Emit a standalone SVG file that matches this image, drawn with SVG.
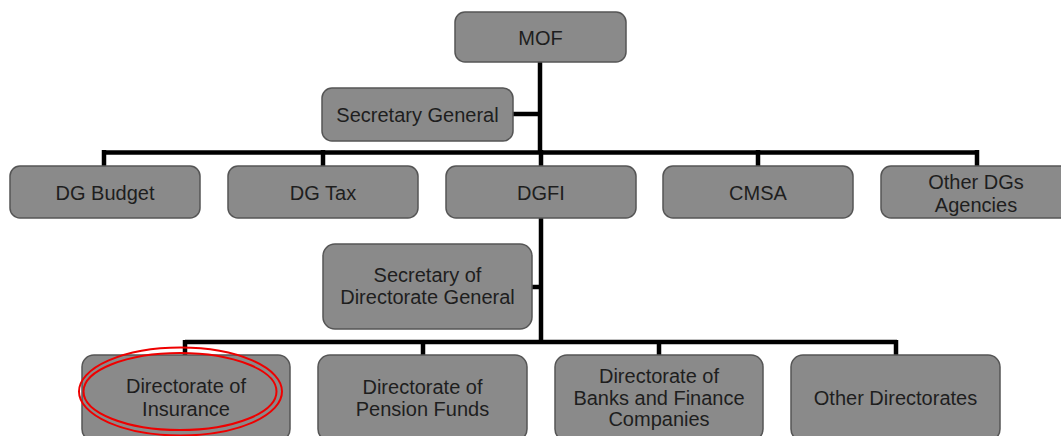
<svg xmlns="http://www.w3.org/2000/svg" width="1061" height="436" viewBox="0 0 1061 436">
  <style>
    .box { fill: #8a8a8a; stroke: #555555; stroke-width: 1.5; }
    .lbl { font-family: "Liberation Sans", Arial, sans-serif; font-size: 20px; fill: #1e1e1e; text-anchor: middle; }
    .wire { fill: none; stroke: #000000; stroke-width: 4.5; stroke-linecap: butt; }
    .ring { fill: none; stroke: #ee0000; stroke-width: 2; }
  </style>
  <rect width="1061" height="436" fill="#ffffff"/>

  <!-- connectors -->
  <g id="connectors" class="wire">
    <path d="M540 62 V152.5"/>
    <path d="M513 114 H540"/>
    <path d="M104 152.5 H977"/>
    <path d="M104 150 V166 M323 150 V166 M541 150 V166 M758 150 V166 M977 150 V166"/>
    <path d="M541 218 V342"/>
    <path d="M532 287 H541"/>
    <path d="M185 342 H897"/>
    <path d="M185 340 V355 M423 340 V355 M659 340 V355 M896 340 V355"/>
  </g>

  <!-- top level -->
  <g id="mof">
    <rect class="box" x="455" y="12" width="171" height="50" rx="10"/>
    <text class="lbl" x="540.5" y="45">MOF</text>
  </g>
  <g id="secretary-general">
    <rect class="box" x="322" y="88" width="191" height="53" rx="10"/>
    <text class="lbl" x="417.5" y="121.5">Secretary General</text>
  </g>

  <!-- directorates general -->
  <g id="dg-budget">
    <rect class="box" x="10" y="166" width="190" height="52" rx="10"/>
    <text class="lbl" x="105" y="200">DG Budget</text>
  </g>
  <g id="dg-tax">
    <rect class="box" x="228" y="166" width="190" height="52" rx="10"/>
    <text class="lbl" x="323" y="200">DG Tax</text>
  </g>
  <g id="dgfi">
    <rect class="box" x="446" y="166" width="190" height="52" rx="10"/>
    <text class="lbl" x="541" y="200">DGFI</text>
  </g>
  <g id="cmsa">
    <rect class="box" x="663" y="166" width="190" height="52" rx="10"/>
    <text class="lbl" x="758" y="200">CMSA</text>
  </g>
  <g id="other-dgs">
    <rect class="box" x="881" y="166" width="190" height="52" rx="10"/>
    <text class="lbl" x="976" y="189">Other DGs</text>
    <text class="lbl" x="976" y="211.5">Agencies</text>
  </g>

  <!-- DGFI secretariat -->
  <g id="secretary-dg">
    <rect class="box" x="323" y="244" width="209" height="85" rx="12"/>
    <text class="lbl" x="427.5" y="282">Secretary of</text>
    <text class="lbl" x="427.5" y="304">Directorate General</text>
  </g>

  <!-- directorates -->
  <g id="dir-insurance">
    <rect class="box" x="82" y="355" width="208" height="86" rx="12"/>
    <text class="lbl" x="186" y="393">Directorate of</text>
    <text class="lbl" x="186" y="416">Insurance</text>
  </g>
  <g id="dir-pension">
    <rect class="box" x="318" y="355" width="209" height="86" rx="12"/>
    <text class="lbl" x="422.5" y="394">Directorate of</text>
    <text class="lbl" x="422.5" y="416">Pension Funds</text>
  </g>
  <g id="dir-banks">
    <rect class="box" x="555" y="355" width="208" height="86" rx="12"/>
    <text class="lbl" x="659" y="383">Directorate of</text>
    <text class="lbl" x="659" y="405">Banks and Finance</text>
    <text class="lbl" x="659" y="426">Companies</text>
  </g>
  <g id="dir-other">
    <rect class="box" x="791" y="355" width="209" height="86" rx="12"/>
    <text class="lbl" x="895.5" y="405">Other Directorates</text>
  </g>

  <!-- double ring highlight -->
  <g id="highlight">
    <ellipse class="ring" cx="180.5" cy="391.5" rx="101.5" ry="44"/>
    <ellipse class="ring" cx="180" cy="391.5" rx="96.5" ry="38.5"/>
  </g>
</svg>
